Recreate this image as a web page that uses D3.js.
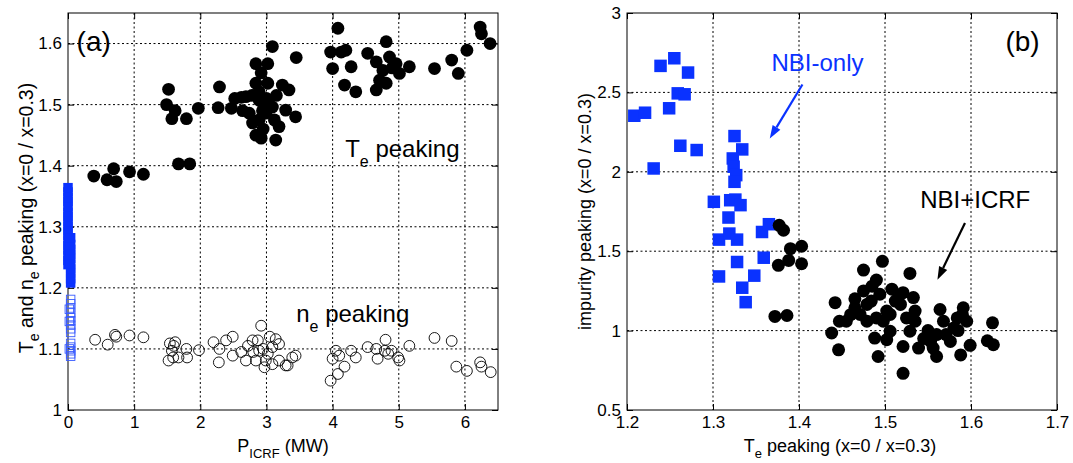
<!DOCTYPE html>
<html><head><meta charset="utf-8">
<script src="https://cdn.jsdelivr.net/npm/d3@7"></script>
<style>body{margin:0;background:#fff}svg{display:block}text{font-family:"Liberation Sans",Arial,Helvetica,sans-serif;fill:#000}</style>
</head><body><svg id="c" width="1073" height="463"></svg>
<script>
// ---------- Panel (a): P_ICRF vs peaking ----------
const aXTicks = [0,1,2,3,4,5,6];
const aYTicks = [1,1.1,1.2,1.3,1.4,1.5,1.6];
// NBI+ICRF: Te peaking [P_ICRF (MW), Te peaking]
const icrfTe = [
[0.39,1.383],[0.59,1.377],[0.69,1.395],[0.73,1.374],[0.93,1.390],[1.14,1.386],
[1.52,1.525],[1.49,1.500],[1.57,1.477],[1.62,1.49],[1.79,1.477],[1.97,1.494],
[1.67,1.403],[1.84,1.403],
[2.29,1.529],[2.27,1.495],[2.47,1.494],[2.52,1.510],[2.62,1.512],[2.69,1.513],
[2.84,1.567],[3.02,1.567],[3.09,1.595],[3.45,1.577],[2.92,1.552],
[2.84,1.535],[3.02,1.535],[3.24,1.532],[3.34,1.524],[2.89,1.507],[2.74,1.486],
[3.09,1.496],[3.29,1.491],[3.44,1.480],[2.89,1.475],[3.19,1.464],[2.84,1.450],
[3.14,1.442],[2.99,1.486],[2.89,1.521],[2.64,1.49],[2.94,1.49],[3.04,1.50],
[2.79,1.47],[3.12,1.475],[2.95,1.46],[2.78,1.515],[3.0,1.51],[3.15,1.515],[2.92,1.445],
[4.08,1.625],[3.97,1.586],[4.13,1.586],[4.2,1.589],[4.0,1.559],[4.28,1.562],[4.18,1.532],[4.35,1.521],
[4.53,1.584],[4.66,1.570],[4.81,1.603],[4.86,1.578],[4.76,1.556],[4.71,1.540],[4.66,1.524],[4.81,1.535],
[4.96,1.567],[5.16,1.562],[5.01,1.551],[4.9,1.56],
[5.54,1.559],[5.80,1.573],[5.90,1.551],[6.03,1.589],[6.23,1.627],[6.25,1.616],[6.38,1.600]
];
// NBI+ICRF: ne peaking [P_ICRF (MW), ne peaking]
const icrfNe = [
[0.41,1.115],[0.6,1.107],[0.71,1.123],[0.73,1.12],[0.93,1.122],[1.14,1.119],
[1.54,1.109],[1.62,1.111],[1.57,1.097],[1.59,1.086],[1.52,1.081],[1.67,1.086],[1.6,1.105],[1.79,1.10],[1.8,1.086],[1.98,1.098],
[2.2,1.111],[2.29,1.10],[2.28,1.078],[2.39,1.114],[2.49,1.12],[2.49,1.089],[2.62,1.095],[2.72,1.105],[2.79,1.114],[2.87,1.114],
[2.92,1.138],[2.89,1.097],[2.84,1.081],[2.97,1.07],[3.02,1.092],[3.09,1.103],[3.14,1.116],[3.19,1.081],[3.29,1.073],[3.39,1.086],
[3.44,1.089],[2.69,1.081],[2.99,1.081],[3.09,1.075],[3.19,1.108],[2.95,1.1],[2.8,1.095],[3.05,1.12],[3.32,1.073],
[3.97,1.048],[4.08,1.059],[4.18,1.071],[4.0,1.084],[4.05,1.097],[4.1,1.089],[4.28,1.097],[4.35,1.086],[4.53,1.103],
[4.66,1.10],[4.68,1.084],[4.8,1.115],[4.79,1.097],[4.89,1.097],[4.99,1.086],[5.01,1.081],[5.16,1.105],[4.84,1.092],
[5.54,1.118],[5.8,1.113],[5.87,1.071],[6.03,1.064],[6.23,1.078],[6.25,1.071],[6.39,1.062]
];
// NBI-only in panel (a): [P_ICRF (MW), Te peaking] and [P_ICRF (MW), ne peaking]
const nbiTeA = [
[0,1.238],[0,1.245],[0,1.253],[0,1.262],[0,1.269],[0,1.277],[0,1.286],[0,1.293],[0,1.301],[0,1.309],
[0,1.317],[0,1.324],[0,1.333],[0,1.341],[0,1.348],[0,1.357],[0,1.364],
[0.04,1.208],[0.04,1.215],[0.04,1.224],[0.04,1.231],[0.04,1.239],[0.04,1.248],[0.04,1.255],
[0.04,1.263],[0.04,1.271],[0.04,1.282]
];
const nbiNeA = [
[0.04,1.181],[0.04,1.174],[0.04,1.167],[0.04,1.159],[0.04,1.151],[0.04,1.146],[0.04,1.139],[0.04,1.133],[0.04,1.127],
[0.02,1.165],[0.02,1.145],
[0.04,1.109],[0.04,1.103],[0.04,1.097],[0.04,1.092],[0.04,1.088],[0.02,1.1]
];

// ---------- Panel (b): Te peaking vs impurity peaking ----------
const bXTicks = [1.2,1.3,1.4,1.5,1.6,1.7];
const bYTicks = [0.5,1,1.5,2,2.5,3];
// NBI-only: Te peaking and impurity peaking
const nbiTe  = [1.2085,1.221,1.239,1.255,1.271,1.259,1.267,1.249,1.262,1.281,1.231,
                1.325,1.334,1.323,1.324,1.327,1.325,1.301,1.320,1.326,1.332,1.318,1.307,1.319,1.328,1.328,
                1.307,1.334,1.338,1.348,1.359,1.357,1.365];
const nbiImp = [2.353,2.372,2.667,2.715,2.625,2.494,2.488,2.40,2.164,2.137,2.021,
                2.225,2.141,2.084,2.032,1.979,1.937,1.811,1.821,1.825,1.79,1.712,1.573,1.611,1.573,1.432,
                1.341,1.27,1.179,1.346,1.459,1.621,1.67];
// NBI+ICRF: [Te peaking, impurity peaking]
const icrfImp = [
[1.377,1.663],[1.382,1.632],[1.376,1.411],[1.388,1.442],[1.390,1.516],[1.403,1.531],[1.403,1.421],[1.372,1.089],[1.386,1.095],
[1.497,1.436],[1.475,1.381],[1.490,1.318],[1.529,1.36],[1.442,1.176],[1.438,0.985],[1.446,0.879],[1.447,1.059],[1.465,1.144],
[1.475,1.25],[1.484,1.186],[1.494,1.229],[1.508,1.261],[1.521,1.239],[1.533,1.208],[1.535,1.123],[1.535,1.059],[1.518,1.165],
[1.502,1.123],[1.490,1.08],[1.488,0.953],[1.502,0.943],[1.492,0.837],[1.521,0.9],[1.521,0.731],[1.506,0.996],[1.479,1.059],
[1.471,1.102],[1.455,1.059],[1.539,0.89],[1.553,0.932],[1.560,0.975],[1.564,1.133],[1.568,1.059],[1.580,1.017],[1.584,1.08],
[1.591,1.144],[1.595,1.059],[1.560,0.837],[1.588,0.847],[1.599,0.907],[1.619,0.936],[1.625,1.049],[1.626,0.911],[1.556,0.89],
[1.571,0.975],[1.576,0.932],[1.479,1.165],[1.506,1.102],[1.525,1.08],[1.529,0.996],[1.512,1.186],[1.498,1.059],[1.465,1.2],
[1.485,1.28],[1.515,1.2],[1.545,0.95],[1.585,1.0],[1.59,1.1],[1.55,1.0],[1.46,1.1]
];

const BLUE = "#0a32ff";
const svg = d3.select("#c");

function frame(g, x, y, xt, yt, fmtX, fmtY) {
  const [x0, x1] = x.range(), [yb, yt0] = y.range();
  const grid = g.append("g").attr("stroke", "#000").attr("stroke-width", 1).attr("stroke-dasharray", "2,2.5");
  grid.selectAll(".gx").data(xt.filter(v => x(v) > x0 + 1 && x(v) < x1 - 1)).join("line")
    .attr("x1", d => x(d)).attr("x2", d => x(d)).attr("y1", yt0).attr("y2", yb);
  grid.selectAll(".gy").data(yt.filter(v => y(v) < yb - 1 && y(v) > yt0 + 1)).join("line")
    .attr("y1", d => y(d)).attr("y2", d => y(d)).attr("x1", x0).attr("x2", x1);
  const style = s => s.call(a => a.select(".domain").remove())
      .call(a => a.selectAll("text").style("font-size", "17px").attr("fill", "#000"))
      .call(a => a.selectAll("line").attr("stroke", "#000"));
  g.append("g").attr("transform", `translate(0,${yb})`)
    .call(d3.axisBottom(x).tickValues(xt).tickSize(-6).tickPadding(6).tickFormat(fmtX)).call(style);
  g.append("g").attr("transform", `translate(${x0},0)`)
    .call(d3.axisLeft(y).tickValues(yt).tickSize(-6).tickPadding(6).tickFormat(fmtY)).call(style);
  g.append("g").attr("transform", `translate(0,${yt0})`)
    .call(d3.axisTop(x).tickValues(xt).tickSize(-6).tickFormat("")).call(style);
  g.append("g").attr("transform", `translate(${x1},0)`)
    .call(d3.axisRight(y).tickValues(yt).tickSize(-6).tickFormat("")).call(style);
  g.append("rect").attr("x", x0).attr("y", yt0).attr("width", x1 - x0).attr("height", yb - yt0)
    .attr("fill", "none").attr("stroke", "#000").attr("stroke-width", 1);
}

function arrow(g, x1, y1, x2, y2, color) {
  const ang = Math.atan2(y2 - y1, x2 - x1), L = 13, Wd = 4.5;
  const bx = x2 - L * Math.cos(ang), by = y2 - L * Math.sin(ang);
  g.append("line").attr("x1", x1).attr("y1", y1).attr("x2", bx).attr("y2", by)
    .attr("stroke", color).attr("stroke-width", 2.2);
  const px = -Math.sin(ang) * Wd, py = Math.cos(ang) * Wd;
  g.append("path").attr("d", `M${x2},${y2}L${bx + px},${by + py}L${bx - px},${by - py}Z`).attr("fill", color);
}

// ===== Panel (a) =====
const xa = d3.scaleLinear().domain([0, 6.5]).range([68, 498]);
const ya = d3.scaleLinear().domain([1, 1.65]).range([410, 13]);
const ga = svg.append("g");
frame(ga, xa, ya, aXTicks, aYTicks, d3.format("d"), d => d3.format("")(d));

ga.append("g").selectAll("circle").data(icrfNe).join("circle")
  .attr("cx", d => xa(d[0])).attr("cy", d => ya(d[1])).attr("r", 5.4)
  .attr("fill", "none").attr("stroke", "#000").attr("stroke-width", 0.9);
ga.append("g").selectAll("circle").data(icrfTe).join("circle")
  .attr("cx", d => xa(d[0])).attr("cy", d => ya(d[1])).attr("r", 6.4).attr("fill", "#000");
const sqA = 9.5;
ga.append("g").selectAll("rect").data(nbiTeA).join("rect")
  .attr("x", d => xa(d[0]) - sqA / 2).attr("y", d => ya(d[1]) - sqA / 2)
  .attr("width", sqA).attr("height", sqA).attr("fill", BLUE);
const sqN = 8.5;
ga.append("g").selectAll("rect").data(nbiNeA).join("rect")
  .attr("x", d => xa(d[0]) - sqN / 2).attr("y", d => ya(d[1]) - sqN / 2)
  .attr("width", sqN).attr("height", sqN).attr("fill", "none").attr("stroke", "#3a5cff").attr("stroke-width", 0.9);

ga.append("text").attr("x", xa(0.13)).attr("y", ya(1.587)).style("font-size", "28px").text("(a)");
const ta = ga.append("text").attr("x", xa(4.19)).attr("y", ya(1.414)).style("font-size", "24px");
ta.append("tspan").text("T");
ta.append("tspan").attr("dy", 10).style("font-size", "16px").text("e");
ta.append("tspan").attr("dy", -10).text(" peaking");
const na = ga.append("text").attr("x", xa(3.45)).attr("y", ya(1.144)).style("font-size", "24px");
na.append("tspan").text("n");
na.append("tspan").attr("dy", 10).style("font-size", "16px").text("e");
na.append("tspan").attr("dy", -10).text(" peaking");

const xla = ga.append("text").attr("x", 283).attr("y", 452).attr("text-anchor", "middle").style("font-size", "18px");
xla.append("tspan").text("P");
xla.append("tspan").attr("dy", 6).style("font-size", "13px").text("ICRF");
xla.append("tspan").attr("dy", -6).text(" (MW)");
const yla = ga.append("text").attr("transform", "translate(33,218) rotate(-90)").attr("text-anchor", "middle").style("font-size", "19.5px");
yla.append("tspan").text("T");
yla.append("tspan").attr("dy", 6).style("font-size", "14px").text("e");
yla.append("tspan").attr("dy", -6).text(" and n");
yla.append("tspan").attr("dy", 6).style("font-size", "14px").text("e");
yla.append("tspan").attr("dy", -6).text(" peaking (x=0 / x=0.3)");

// ===== Panel (b) =====
const xb = d3.scaleLinear().domain([1.2, 1.7]).range([627, 1057]);
const yb = d3.scaleLinear().domain([0.5, 3]).range([410, 13]);
const gb = svg.append("g");
frame(gb, xb, yb, bXTicks, bYTicks, d3.format(""), d3.format(""));

const sqB = 12.5;
gb.append("g").selectAll("rect").data(d3.range(nbiTe.length)).join("rect")
  .attr("x", i => xb(nbiTe[i]) - sqB / 2).attr("y", i => yb(nbiImp[i]) - sqB / 2)
  .attr("width", sqB).attr("height", sqB).attr("fill", BLUE);
gb.append("g").selectAll("circle").data(icrfImp).join("circle")
  .attr("cx", d => xb(d[0])).attr("cy", d => yb(d[1])).attr("r", 6.5).attr("fill", "#000");

gb.append("text").attr("x", xb(1.64)).attr("y", yb(2.76)).style("font-size", "28px").text("(b)");
gb.append("text").attr("x", xb(1.368)).attr("y", yb(2.634)).style("font-size", "24px").style("fill", BLUE).text("NBI-only");
gb.append("text").attr("x", xb(1.541)).attr("y", yb(1.769)).style("font-size", "24px").text("NBI+ICRF");
arrow(gb, xb(1.404), yb(2.55), xb(1.366), yb(2.21), BLUE);
arrow(gb, xb(1.593), yb(1.678), xb(1.561), yb(1.321), "#000");

const xlb = gb.append("text").attr("x", 840).attr("y", 452).attr("text-anchor", "middle").style("font-size", "18px");
xlb.append("tspan").text("T");
xlb.append("tspan").attr("dy", 6).style("font-size", "13px").text("e");
xlb.append("tspan").attr("dy", -6).text(" peaking (x=0 / x=0.3)");
gb.append("text").attr("transform", "translate(591,211.5) rotate(-90)").attr("text-anchor", "middle")
  .style("font-size", "18px").text("impurity peaking (x=0 / x=0.3)");
</script></body></html>
